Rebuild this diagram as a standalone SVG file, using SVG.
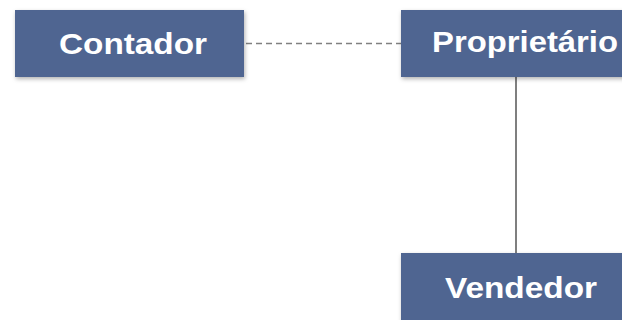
<svg xmlns="http://www.w3.org/2000/svg" width="622" height="320" viewBox="0 0 622 320">
<style>
.box{fill:#4f6591;filter:url(#sh)}
.t{font-family:"Liberation Sans",Arial,sans-serif;font-weight:bold;font-size:30px;fill:#ffffff}
</style>
<defs>
<filter id="sh" x="-10%" y="-20%" width="120%" height="140%">
<feDropShadow dx="1" dy="2" stdDeviation="2" flood-color="#000" flood-opacity="0.3"/>
</filter>
</defs>
<rect width="622" height="320" fill="#ffffff"/>
<g id="connectors">
<line x1="246" y1="43.5" x2="401" y2="43.5" stroke="#808080" stroke-width="1.3" stroke-dasharray="6,4"/>
<line x1="516" y1="77" x2="516" y2="253" stroke="#555555" stroke-width="1.5"/>
</g>
<g id="contador">
<rect class="box" x="15" y="10" width="229" height="67"/>
<text class="t" x="59" y="54" textLength="148" lengthAdjust="spacingAndGlyphs">Contador</text>
</g>
<g id="proprietario">
<rect class="box" x="401" y="10" width="231" height="67"/>
<text class="t" x="432" y="52" textLength="186" lengthAdjust="spacingAndGlyphs">Proprietário</text>
</g>
<g id="vendedor">
<rect class="box" x="401" y="253" width="231" height="70"/>
<text class="t" x="445" y="298" textLength="152" lengthAdjust="spacingAndGlyphs">Vendedor</text>
</g>
</svg>
